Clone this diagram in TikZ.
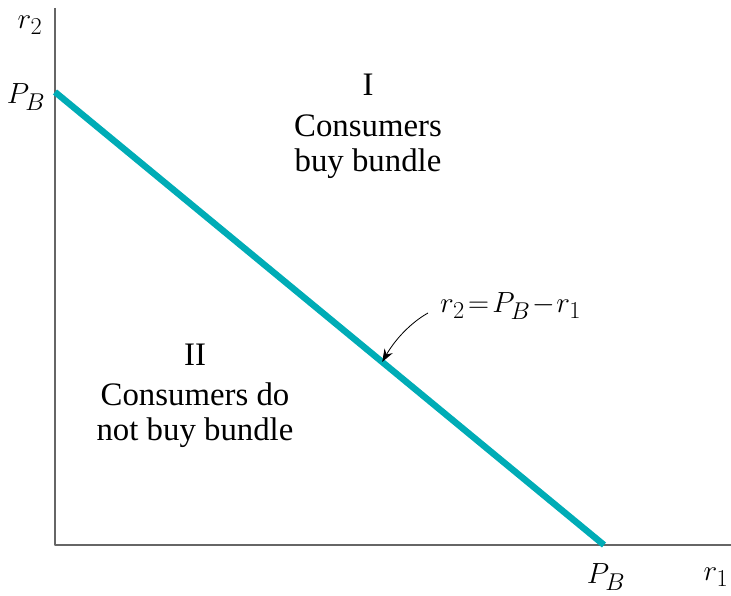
\documentclass[tikz,border=0pt]{standalone}
\usepackage{fontspec}
\setmainfont{Liberation Serif}
\usetikzlibrary{arrows.meta,calc}
\definecolor{bundleteal}{RGB}{0,172,182}
\tikzset{
  axis/.style={draw=black!60,line width=1.4pt},
  lbl/.style={font=\fontsize{28}{30}\selectfont,inner sep=0pt,align=center},
}
\begin{document}
\begin{tikzpicture}[x=0.03cm,y=0.03cm,line cap=butt,line join=round]
\useasboundingbox (0,0) rectangle (731,596);
% ---- axes ----
\coordinate (O) at (55,51);
\coordinate (ytop) at (55,588);
\coordinate (xend) at (731,51);
\draw[axis] (ytop) -- (O) -- (xend);

% ---- budget line ----
\coordinate (PBy) at (55,504);
\coordinate (PBx) at (604,51);
\draw[bundleteal,line width=5.5pt] (PBy) -- (PBx);

% axis labels
\node[lbl] (r2) at (30,571) {$r_2$};
\node[lbl] (pby) at (26,499) {$P_B$};
\node[lbl] (pbx) at (606,19) {$P_B$};
\node[lbl] (r1) at (716,19) {$r_1$};

% ---- region labels ----
\node[lbl] (reg1) at (368,511) {I};
\node[lbl] (reg1txt) at (368,449) {Consumers\\buy bundle};
\node[lbl] (reg2) at (195,241) {II};
\node[lbl] (reg2txt) at (195,181) {Consumers do\\not buy bundle};

% ---- line label with arrow ----
\node[lbl,anchor=west] (eq) at (440,290) {$r_2\mkern2mu{=}\mkern2mu P_B\mkern1mu{-}\mkern1mu r_1$};
\coordinate (tip) at ($(PBy)!0.596!(PBx)$);
\coordinate (tail) at (428,283);
\draw[-{Stealth[length=11pt,width=8pt]},line width=0.7pt] (tail) .. controls (412,274) and (396,258) .. (tip);
\end{tikzpicture}
\end{document}
